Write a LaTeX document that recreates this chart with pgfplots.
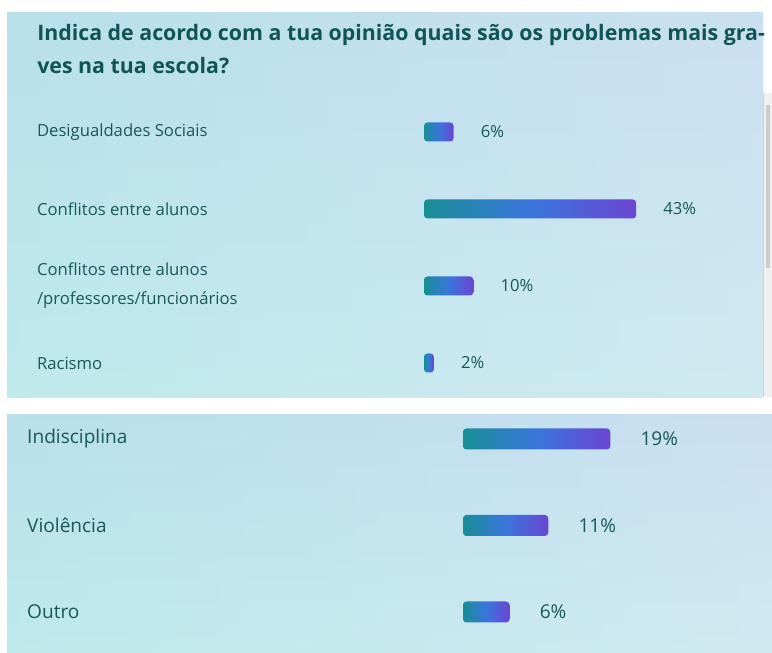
\documentclass[border=0pt]{standalone}
\usepackage{pgfplots}
\pgfplotsset{compat=1.18}
\usepackage{fontspec}
\setmainfont{Open Sans}
\definecolor{txt}{HTML}{18585B}
\definecolor{ttl}{HTML}{0F5459}
\definecolor{gA}{HTML}{188E96}
\definecolor{gB}{HTML}{3A76DC}
\definecolor{gC}{HTML}{6B45D3}
\definecolor{bgTop}{HTML}{BED7EF}
\definecolor{bgBot}{HTML}{CAECEF}
\definecolor{bgL}{HTML}{B4E8E9}
\definecolor{bgR}{HTML}{D6E8F3}
\pgfplotsset{
  gbar/.style={xbar, bar shift=0pt, draw=none, left color=gA, right color=gC, middle color=gB, rounded corners=2.5pt},
  panel/.style={
    anchor=origin, y dir=reverse, clip=false,
    axis line style={draw=none}, major tick length=0pt, tick style={draw=none},
    xtick=\empty, point meta=x,
    /pgf/number format/assume math mode=true,
    nodes near coords={\pgfmathprintnumber{\pgfplotspointmeta}\%},
    yticklabel style={anchor=west, align=left, inner sep=0pt, text=txt},
  },
}
\begin{document}
\begin{tikzpicture}[x=0.75pt,y=0.75pt]
\fill[white] (0,0) rectangle (772,653);
% panel 1 background
\shade[top color=bgTop, bottom color=bgBot] (7,255) rectangle (763,640);
\shade[left color=bgL, right color=bgR, opacity=0.5] (7,255) rectangle (763,640);
% scrollbar
\fill[gray!12] (763,256) rectangle (772,560);
\draw[gray!35] (763.5,256) -- (763.5,560);
\fill[gray!40] (765.5,385) rectangle (769.5,548);
% panel 2 background
\shade[top color=bgTop, bottom color=bgBot] (7,0) rectangle (772,238);
\shade[left color=bgL, right color=bgR, opacity=0.5] (7,0) rectangle (772,238);
% title
\node[anchor=base west, inner sep=0pt, text=ttl, font=\fontsize{16}{18}\selectfont\bfseries] at (37,612) {Indica de acordo com a tua opinião quais são os problemas mais gra-};
\node[anchor=base west, inner sep=0pt, text=ttl, font=\fontsize{16}{18}\selectfont\bfseries] at (37,579) {ves na tua escola?};

\begin{axis}[panel, at={(318pt,390.75pt)}, x=3.7pt, y=57.75pt,
  xmin=-78.5, xmax=68, ymin=-1.0, ymax=3.4,
  ytick={0,1,2,3},
  yticklabels={Desigualdades Sociais, Conflitos entre alunos, {Conflitos entre alunos\\/professores/funcionários}, Racismo},
  yticklabel style={font=\fontsize{12.5}{21.75}\selectfont},
  every node near coord/.append style={anchor=west, inner sep=0pt, xshift=20.25pt, text=txt, font=\fontsize{12.5}{14}\selectfont},
  bar width=14.25pt]
\addplot[gbar] coordinates {(6,0)};
\addplot[gbar] coordinates {(43,1)};
\addplot[gbar] coordinates {(10,2)};
\addplot[gbar] coordinates {(2,3)};
\end{axis}

\begin{axis}[panel, at={(347.25pt,160.5pt)}, x=5.8125pt, y=64.875pt,
  xmin=-56.26, xmax=39, ymin=-0.25, ymax=2.45,
  ytick={0,1,2},
  yticklabels={Indisciplina, Violência, Outro},
  yticklabel style={font=\fontsize{14.3}{16}\selectfont},
  every node near coord/.append style={anchor=west, inner sep=0pt, xshift=22.5pt, text=txt, font=\fontsize{14.3}{16}\selectfont},
  bar width=15.75pt]
\addplot[gbar] coordinates {(19,0)};
\addplot[gbar] coordinates {(11,1)};
\addplot[gbar] coordinates {(6,2)};
\end{axis}
\pgfresetboundingbox
\useasboundingbox (0,0) rectangle (772,653);
\end{tikzpicture}
\end{document}
